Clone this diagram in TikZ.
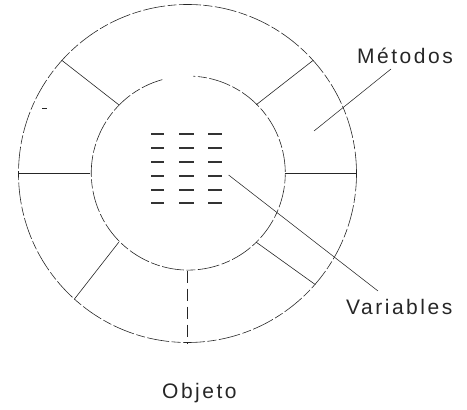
\documentclass[tikz,border=0pt]{standalone}
\usepackage{fontspec}
\setmainfont{Liberation Sans}[LetterSpace=12]
\begin{document}
\begin{tikzpicture}[x=1pt,y=1pt,
  ring/.style={draw=black!85, line width=0.6pt, dash pattern=on 22pt off 2.5pt on 9pt off 2.5pt},
  spoke/.style={draw=black!85, line width=0.6pt},
  dspoke/.style={draw=black!85, line width=0.6pt, dash pattern=on 12pt off 6pt},
  leader/.style={draw=black!85, line width=0.55pt},
  bar/.style={draw=black!80, line width=1.1pt},
  lbl/.style={font=\fontsize{21}{25}\selectfont, text=black!85, inner sep=0pt, anchor=base west}]
\useasboundingbox (0,0) rectangle (467,410);
\coordinate (c) at (187.5,236.5);
\node[circle, minimum size=338pt, inner sep=0pt, ring] (outer) at (c) {};
\node[circle, minimum size=194pt, inner sep=0pt] (inner) at (c) {};
% inner circle with gap at top
\draw[ring] (inner.105.5) arc[start angle=105.5, end angle=447, radius=97pt];
% spokes
\draw[spoke] (inner.135.5) -- (outer.138.7);
\draw[spoke] (inner.45) -- (outer.42);
\draw[spoke] (inner.-45) -- (outer.-41.5);
\draw[spoke] (inner.-135) -- (outer.-132);
\draw[dspoke] (inner.-90) -- (outer.-90);
\draw[spoke] (inner.180) -- (outer.180);
\draw[spoke] (inner.0) -- (outer.0);
% small mark
\coordinate (m1) at (42,302);
\coordinate (m2) at (47,302);
\draw[spoke] (m1) -- (m2);
% variable bars
\foreach \y in {276,262,248,234,220,207} {
  \draw[bar] (151,\y) -- (164,\y);
  \draw[bar] (179,\y) -- (194,\y);
  \draw[bar] (208,\y) -- (222,\y);
}
% labels
\node[lbl] (met) at (357,346) {Métodos};
\node[lbl] (var) at (346,95) {Variables};
\node[lbl] (obj) at (162,11) {Objeto};
% leaders
\coordinate (mtip) at (314,279);
\coordinate (mend) at (391,341);
\draw[leader] (mtip) -- (mend);
\coordinate (vtip) at (228.6,235);
\coordinate (vend) at (378,119);
\draw[leader] (vtip) -- (vend);
\end{tikzpicture}
\end{document}
